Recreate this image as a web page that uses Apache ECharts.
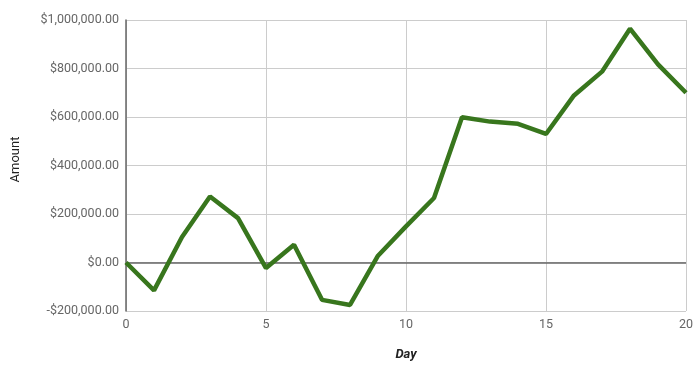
<!DOCTYPE html>
<html>
<head>
<meta charset="utf-8">
<script src="https://cdn.jsdelivr.net/npm/echarts@6/dist/echarts.min.js"></script>
<style>html,body{margin:0;padding:0;background:#fff}#c{width:700px;height:376px}</style>
</head>
<body>
<div id="c"></div>
<script>
const days = [0,1,2,3,4,5,6,7,8,9,10,11,12,13,14,15,16,17,18,19,20];
const amounts = [0,-115000,105000,272000,183000,-23000,73000,-154000,-175000,28000,149000,266000,599000,581000,572000,530000,689000,787000,964000,817000,700000];
const yTicks = [-200000,0,200000,400000,600000,800000,1000000];
const xTicks = [0,5,10,15,20];

function money(v){
  const s = Math.abs(v).toLocaleString('en-US',{minimumFractionDigits:2,maximumFractionDigits:2});
  return (v<0?'-$':'$')+s;
}
const chart = echarts.init(document.getElementById('c'),null,{renderer:'canvas'});
chart.setOption({
  animation:false,
  backgroundColor:'#fff',
  textStyle:{fontFamily:'Roboto'},
  grid:{left:126,right:14,top:20,bottom:65,containLabel:false},
  xAxis:{
    type:'value',min:xTicks[0],max:xTicks[xTicks.length-1],interval:5,
    name:'Day',nameLocation:'middle',nameGap:37,
    nameTextStyle:{fontFamily:'Roboto',fontSize:13,fontWeight:'bold',fontStyle:'italic',color:'#222'},
    axisLine:{show:false},axisTick:{show:false},
    axisLabel:{color:'#666',fontSize:12.5,margin:7},
    splitLine:{show:true,lineStyle:{color:'#cccccc',width:1}}
  },
  yAxis:{
    type:'value',min:yTicks[0],max:yTicks[yTicks.length-1],interval:200000,
    name:'Amount',nameLocation:'middle',nameGap:104,
    nameTextStyle:{fontFamily:'Roboto',fontSize:13,color:'#222',padding:[0,0,0,12]},
    axisLine:{show:true,lineStyle:{color:'#666',width:1.5}},axisTick:{show:false},
    axisLabel:{color:'#666',fontSize:12.5,margin:7,formatter:money},
    splitLine:{show:true,lineStyle:{color:'#cccccc',width:1}}
  },
  series:[{
    type:'line',
    data:days.map((d,i)=>[d,amounts[i]]),
    showSymbol:false,
    lineStyle:{color:'#38761d',width:4.5},
    itemStyle:{color:'#38761d'},
    markLine:{
      silent:true,symbol:['none','none'],label:{show:false},
      lineStyle:{color:'#666',width:1.5,type:'solid'},
      data:[{yAxis:0}],z:1
    },
    z:3
  }]
});
</script>
</body>
</html>
